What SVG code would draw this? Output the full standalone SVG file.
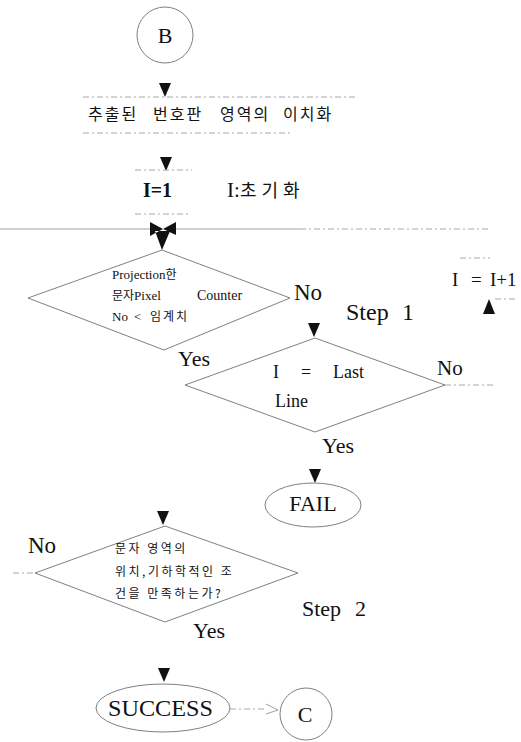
<svg xmlns="http://www.w3.org/2000/svg" width="521" height="742" viewBox="0 0 521 742">
<defs>
<style>
.ln{fill:none;stroke:#a0a0a0;stroke-width:1}
.dl{fill:none;stroke:#a8a8a8;stroke-width:1;stroke-dasharray:6 3 2 3}
.sh{fill:#fff;stroke:#808080;stroke-width:1}
.ah{fill:#111}
.t{font-family:"Liberation Serif","Times New Roman",serif;fill:#111}
.k{font-family:"Noto Sans CJK KR","Liberation Serif",sans-serif;fill:#111}
</style>
<path id="down" d="M-6,0 L6,0 L0,14 Z"/>
</defs>
<rect width="521" height="742" fill="#fff"/>

<g id="connectors">
  <use href="#down" class="ah" x="165" y="83"/>
  <path class="dl" d="M83,97 H357"/>
  <path class="dl" d="M83,133 H293"/>
  <use href="#down" class="ah" x="166" y="157"/>
  <path class="dl" d="M135,170 H192"/>
  <path class="dl" d="M135,214 H190"/>
  <path class="ln" d="M0,229 H150 M175,229 H300"/>
  <path class="dl" d="M300,229 H490"/>
  <path class="ah" d="M150,222 L150,236 L163,229 Z M176,222 L176,235 L163,229 Z M155,231 L170,231 L162,250 Z"/>
  <path class="dl" d="M460,258 H490"/>
  <path class="ah" d="M483,314 L495,314 L489,299 Z"/>
  <path class="dl" d="M495,299 H518"/>
  <use href="#down" class="ah" x="314" y="323"/>
  <path class="dl" d="M445,385 H493"/>
  <use href="#down" class="ah" x="315" y="469"/>
  <use href="#down" class="ah" x="163" y="511"/>
  <path class="dl" d="M13,573 H35"/>
  <use href="#down" class="ah" x="164" y="668"/>
  <path class="dl" d="M230,709 H266"/>
  <path class="ln" d="M266,704 L278,710 L266,714"/>
</g>

<g id="nodeB">
  <circle class="sh" cx="165" cy="35" r="28"/>
  <text class="t" x="165" y="43" font-size="22" text-anchor="middle">B</text>
</g>

<g id="binarize">
  <text class="k" y="120" font-size="16" letter-spacing="2"><tspan x="88">추출된</tspan><tspan x="153">번호판</tspan><tspan x="220">영역의</tspan><tspan x="283">이치화</tspan></text>
</g>

<g id="init">
  <text class="t" x="143" y="197" font-size="21" font-weight="bold" textLength="29" lengthAdjust="spacingAndGlyphs">I=1</text>
  <text class="t" x="227" y="197" font-size="21">I:</text>
  <text class="k" x="240" y="197" font-size="18" letter-spacing="5">초기화</text>
</g>

<g id="decision1">
  <polygon class="sh" points="162,250 290,298 164,350 28,298"/>
  <text class="t" x="112" y="279" font-size="13">Projection<tspan class="k" font-size="12">한</tspan></text>
  <text x="112" y="300" font-size="13"><tspan class="k" font-size="12">문자</tspan><tspan class="t">Pixel</tspan></text>
  <text class="t" x="197" y="300" font-size="14">Counter</text>
  <text class="t" x="112" y="321" font-size="13">No</text>
  <text class="t" x="134" y="321" font-size="13">&lt;</text>
  <text class="k" x="150" y="321" font-size="12" letter-spacing="2">임계치</text>
  <text class="t" x="294" y="300" font-size="23">No</text>
  <text class="t" x="178" y="366" font-size="22">Yes</text>
</g>

<g id="step1">
  <text class="t" x="346" y="320" font-size="24">Step</text>
  <text class="t" x="402" y="320" font-size="24">1</text>
</g>

<g id="increment">
  <text class="t" x="452" y="286" font-size="19">I</text>
  <text class="t" x="471" y="286" font-size="19">=</text>
  <text class="t" x="490" y="286" font-size="19">I+1</text>
</g>

<g id="decision2">
  <polygon class="sh" points="315,338 445,385 315,432 185,385"/>
  <text class="t" x="273" y="378" font-size="18">I</text>
  <text class="t" x="301" y="378" font-size="18">=</text>
  <text class="t" x="333" y="378" font-size="18">Last</text>
  <text class="t" x="275" y="407" font-size="18">Line</text>
  <text class="t" x="437" y="375" font-size="21">No</text>
  <text class="t" x="322" y="453" font-size="22">Yes</text>
</g>

<g id="fail">
  <ellipse class="sh" cx="313" cy="505" rx="48" ry="22"/>
  <text class="t" x="313" y="511" font-size="22" text-anchor="middle">FAIL</text>
</g>

<g id="decision3">
  <polygon class="sh" points="165,526 298,573 165,622 35,573"/>
  <text class="k" x="115" y="553" font-size="12" letter-spacing="2.5">문자 영역의</text>
  <text class="k" x="115" y="576" font-size="12" letter-spacing="2.5">위치,기하학적인  조</text>
  <text class="k" x="115" y="598" font-size="12" letter-spacing="2.5">건을 만족하는가?</text>
  <text class="t" x="28" y="553" font-size="23">No</text>
  <text class="t" x="193" y="638" font-size="22">Yes</text>
</g>

<g id="step2">
  <text class="t" x="302" y="616" font-size="22">Step</text>
  <text class="t" x="355" y="616" font-size="22">2</text>
</g>

<g id="success">
  <ellipse class="sh" cx="163" cy="708" rx="67" ry="24"/>
  <text class="t" x="108" y="716" font-size="23" textLength="105" lengthAdjust="spacingAndGlyphs">SUCCESS</text>
</g>

<g id="nodeC">
  <circle class="sh" cx="306" cy="714" r="26"/>
  <text class="t" x="305" y="722" font-size="22" text-anchor="middle">C</text>
</g>
</svg>
